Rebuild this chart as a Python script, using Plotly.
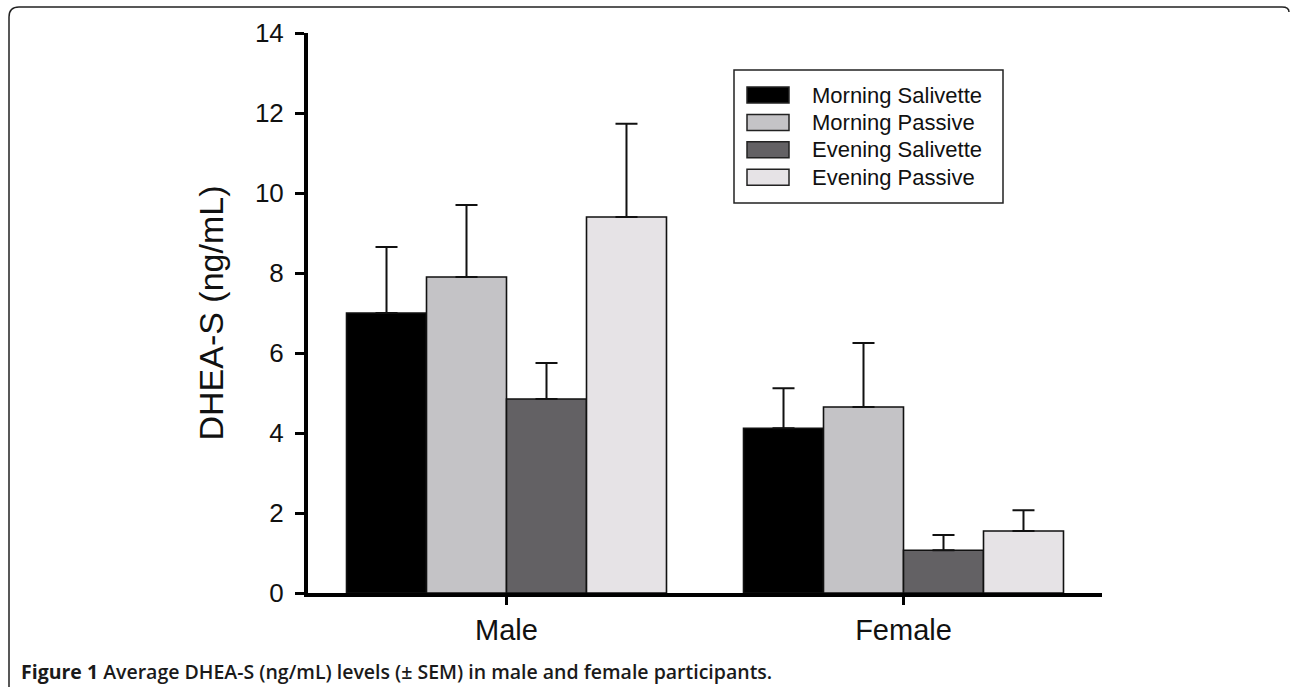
import plotly.graph_objects as go

# ---- data ----
categories = ["Male", "Female"]
series_names = ["Morning Salivette", "Morning Passive", "Evening Salivette", "Evening Passive"]
morning_salivette = [7.0, 4.12]
morning_passive = [7.9, 4.65]
evening_salivette = [4.85, 1.07]
evening_passive = [9.4, 1.55]
morning_salivette_sem = [1.65, 1.0]
morning_passive_sem = [1.8, 1.6]
evening_salivette_sem = [0.9, 0.38]
evening_passive_sem = [2.33, 0.52]
y_ticks = [0, 2, 4, 6, 8, 10, 12, 14]
y_title = "DHEA-S (ng/mL)"
caption = "<b>Figure 1</b> Average DHEA-S (ng/mL) levels (± SEM) in male and female participants."

values = [morning_salivette, morning_passive, evening_salivette, evening_passive]
sems = [morning_salivette_sem, morning_passive_sem, evening_salivette_sem, evening_passive_sem]
colors = ["#000000", "#c4c3c6", "#636164", "#e6e3e6"]

W, H = 1290, 687
L, R, T, B = 308, 188, 33, 94
PW, PH = W - L - R, H - T - B


def px(xp):
    return (xp - L) / PW


def py(yp):
    return (H - B - yp) / PH


fig = go.Figure()
for name, vals, err, col in zip(series_names, values, sems, colors):
    fig.add_trace(go.Bar(
        x=categories, y=vals, name=name,
        marker=dict(color=col, line=dict(color="#111111", width=1.6)),
        error_y=dict(type="data", array=err, arrayminus=[0] * len(err), symmetric=False,
                     color="#111111", thickness=2, width=11),
        showlegend=False,
    ))

shapes = []
annotations = []

# custom legend
shapes.append(dict(type="rect", xref="paper", yref="paper",
                   x0=px(734), x1=px(1003), y0=py(70), y1=py(203),
                   line=dict(color="#222222", width=1.5), fillcolor="rgba(0,0,0,0)"))
for i, (name, col) in enumerate(zip(series_names, colors)):
    cy = 95 + 27.4 * i
    shapes.append(dict(type="rect", xref="paper", yref="paper",
                       x0=px(747), x1=px(789), y0=py(cy - 8), y1=py(cy + 8),
                       line=dict(color="#222222", width=1.5), fillcolor=col))
    annotations.append(dict(xref="paper", yref="paper", x=px(810), y=py(cy),
                            xanchor="left", yanchor="middle", showarrow=False,
                            text=name, font=dict(size=22, color="#111111",
                                                 family="Liberation Sans, Arial, sans-serif")))

# outer frame (rounded top-left corner)
fx0, fy0, fx1, fy1 = px(9), py(7), px(1290), py(700)
rx, ry = 10 / PW, 10 / PH
path = (f"M {fx0},{fy1} L {fx0},{fy0 - ry} Q {fx0},{fy0} {fx0 + rx},{fy0} "
        f"L {px(1282)},{fy0} Q {px(1289)},{fy0} {px(1289)},{py(12)}")
shapes.append(dict(type="path", xref="paper", yref="paper", path=path,
                   line=dict(color="#222222", width=1.5)))

# caption
annotations.append(dict(xref="paper", yref="paper", x=px(19), y=py(671),
                        xanchor="left", yanchor="middle", showarrow=False,
                        text=caption, font=dict(size=19.5, color="#1a1a1a", weight=600,
                                                family="Open Sans, sans-serif")))

fig.update_layout(
    width=W, height=H, autosize=False,
    margin=dict(l=L, r=R, t=T, b=B),
    paper_bgcolor="white", plot_bgcolor="white",
    font=dict(family="Liberation Sans, Arial, sans-serif", color="#111111"),
    barmode="group", bargap=0.194, bargroupgap=0,
    shapes=shapes, annotations=annotations,
    xaxis=dict(range=[-0.5, 1.5], showline=True, linewidth=4, linecolor="#000000",
               ticks="outside", ticklen=8, tickwidth=3, tickcolor="#000000",
               tickfont=dict(size=29), showgrid=False, zeroline=False, fixedrange=True),
    yaxis=dict(range=[0, 14], tickvals=y_ticks, showline=True, linewidth=4,
               linecolor="#000000", ticks="outside", ticklen=9, tickwidth=3,
               tickcolor="#000000", tickfont=dict(size=26), showgrid=False,
               zeroline=False, ticklabelstandoff=6,
               title=dict(text=y_title, font=dict(size=34), standoff=22)),
)

fig.write_html("out.html", config={"displayModeBar": False},
               post_script="document.body.style.margin='0';document.body.style.overflow='hidden';")
